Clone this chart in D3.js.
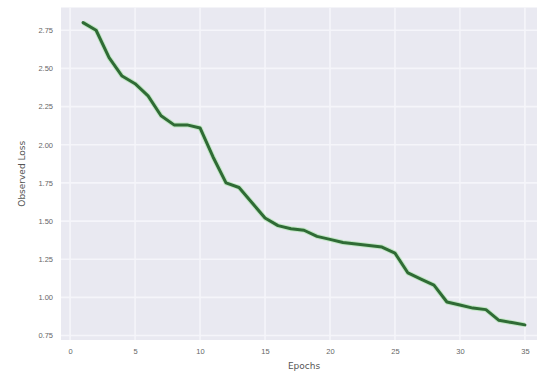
<!DOCTYPE html>
<html>
<head>
<meta charset="utf-8">
<script src="https://cdn.jsdelivr.net/npm/d3@7"></script>
<style>
  body { margin: 0; background: #fff; }
  svg { display: block; font-family: "DejaVu Sans", sans-serif; }
</style>
</head>
<body>
<div id="chart"></div>
<script>
// DATA
const epochs = d3.range(1, 36);
const loss = [2.80, 2.75, 2.57, 2.45, 2.40, 2.32, 2.19, 2.13, 2.13, 2.11,
              1.92, 1.75, 1.72, 1.62, 1.52, 1.47, 1.45, 1.44, 1.40, 1.38,
              1.36, 1.35, 1.34, 1.33, 1.29, 1.16, 1.12, 1.08, 0.97, 0.95,
              0.93, 0.92, 0.85, 0.835, 0.82];
const xTicks = [0, 5, 10, 15, 20, 25, 30, 35];
const yTicks = [0.75, 1.00, 1.25, 1.50, 1.75, 2.00, 2.25, 2.50, 2.75];

const W = 537, H = 371;
const margin = {top: 7.5, right: -10, bottom: 31, left: 61};
const width = W - margin.left - margin.right;
const height = H - margin.top - margin.bottom;

const svg = d3.select('#chart').append('svg')
  .attr('width', W)
  .attr('height', H);

const g = svg.append('g')
  .attr('transform', 'translate(' + margin.left + ',' + margin.top + ')');

// SCALES (matplotlib-style 5% margins)
const xPad = (35 - 1) * 0.05;
const xScale = d3.scaleLinear().domain([1 - xPad, 35 + xPad]).range([0, width]);
const yPad = (d3.max(loss) - d3.min(loss)) * 0.05;
const yScale = d3.scaleLinear()
  .domain([d3.min(loss) - yPad, d3.max(loss) + yPad])
  .range([height, 0]);

// BACKGROUND + GRID
g.append('rect')
  .attr('width', width)
  .attr('height', height)
  .attr('fill', '#e9e9f1');

g.append('g').selectAll('line').data(xTicks).enter().append('line')
  .attr('x1', d => xScale(d)).attr('x2', d => xScale(d))
  .attr('y1', 0).attr('y2', height)
  .attr('stroke', '#f5f5fa').attr('stroke-width', 1.6);

g.append('g').selectAll('line').data(yTicks).enter().append('line')
  .attr('x1', 0).attr('x2', width)
  .attr('y1', d => yScale(d)).attr('y2', d => yScale(d))
  .attr('stroke', '#f5f5fa').attr('stroke-width', 1.6);

// AXES
const xAxis = d3.axisBottom(xScale).tickValues(xTicks).tickSize(0).tickPadding(9);
const yAxis = d3.axisLeft(yScale).tickValues(yTicks).tickSize(0).tickPadding(8)
  .tickFormat(d3.format('.2f'));

g.append('g')
  .attr('transform', 'translate(0,' + height + ')')
  .call(xAxis)
  .call(a => a.select('.domain').remove())
  .selectAll('text')
  .attr('fill', '#666').style('font-size', '7.5px');

g.append('g')
  .call(yAxis)
  .call(a => a.select('.domain').remove())
  .selectAll('text')
  .attr('fill', '#666').style('font-size', '7.5px');

// LABELS
svg.append('text')
  .attr('x', margin.left + xScale(18))
  .attr('y', 369)
  .attr('text-anchor', 'middle')
  .attr('fill', '#555')
  .style('font-size', '9px')
  .text('Epochs');

svg.append('text')
  .attr('transform', 'translate(25,' + (margin.top + height / 2) + ') rotate(-90)')
  .attr('text-anchor', 'middle')
  .attr('fill', '#555')
  .style('font-size', '9px')
  .text('Observed Loss');

// LINE
const line = d3.line()
  .x((d, i) => xScale(epochs[i]))
  .y(d => yScale(d));

g.append('path')
  .datum(loss)
  .attr('fill', 'none')
  .attr('stroke', '#a8e6a8')
  .attr('stroke-width', 5)
  .attr('stroke-linejoin', 'round')
  .attr('opacity', 0.6)
  .attr('d', line);

g.append('path')
  .datum(loss)
  .attr('fill', 'none')
  .attr('stroke', '#2f6b35')
  .attr('stroke-width', 3)
  .attr('stroke-linejoin', 'round')
  .attr('stroke-linecap', 'round')
  .attr('d', line);
</script>
</body>
</html>
